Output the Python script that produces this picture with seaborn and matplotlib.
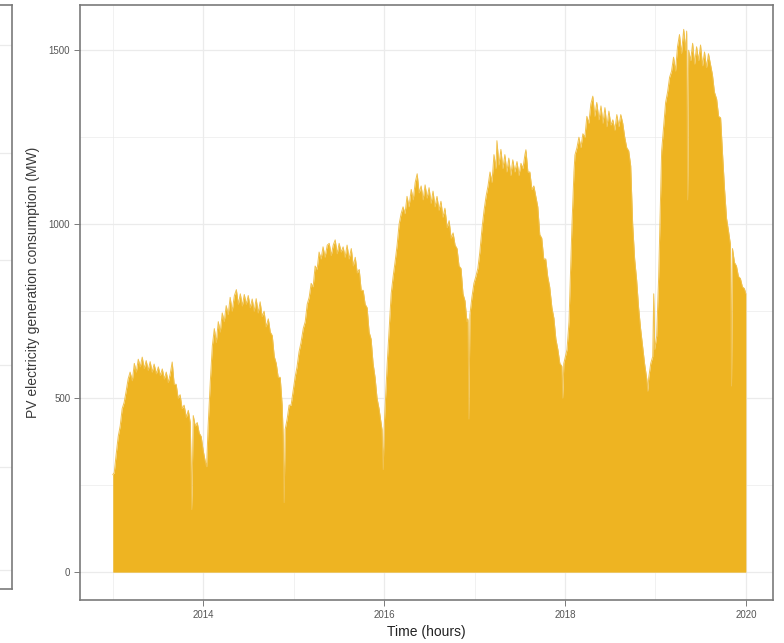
import numpy as np
import pandas as pd
import matplotlib
matplotlib.use("Agg")
import matplotlib.pyplot as plt
import matplotlib.dates as mdates
import seaborn as sns

# Peak hourly PV output (MW), sampled along the series: day offset from 2013-01-01
day_offset = [
    0, 6, 14, 22, 30, 38, 46, 54, 62, 70, 79, 87, 95, 103, 111, 119, 127, 135, 143, 151,
    159, 167, 176, 184, 192, 200, 208, 216, 224, 232, 240, 248, 256, 264, 272, 280, 288,
    297, 305, 313, 319, 325, 333, 341, 349, 357, 365,
    373, 379, 385, 394, 402, 410, 418, 426, 434, 442, 450, 458, 466, 474, 482, 491, 499,
    507, 515, 523, 531, 539, 547, 555, 563, 571, 579, 587, 595, 603, 611, 619, 628, 636,
    644, 652, 660, 668, 676, 684, 688, 692, 696, 704, 712, 720, 728,
    736, 744, 752, 760, 769, 777, 785, 793, 801, 809, 817, 825, 833, 841, 849, 857, 866,
    874, 882, 890, 898, 906, 914, 922, 930, 938, 946, 954, 963, 971, 979, 987, 995, 1003,
    1011, 1019, 1027, 1035, 1043, 1051, 1059, 1067, 1075, 1083, 1087, 1092, 1096,
    1100, 1108, 1116, 1124, 1132, 1140, 1148, 1156, 1164, 1172, 1180, 1188, 1196, 1205,
    1213, 1221, 1229, 1237, 1245, 1253, 1261, 1269, 1277, 1285, 1293, 1301, 1309, 1317,
    1325, 1333, 1341, 1350, 1358, 1366, 1374, 1382, 1390, 1398, 1406, 1414, 1422, 1430,
    1434, 1438, 1442, 1450, 1458,
    1466, 1474, 1482, 1491, 1499, 1507, 1515, 1523, 1531, 1539, 1547, 1551, 1559, 1567,
    1575, 1583, 1591, 1599, 1607, 1615, 1623, 1632, 1640, 1648, 1656, 1664, 1668, 1676,
    1684, 1692, 1700, 1708, 1716, 1724, 1732, 1740, 1748, 1756, 1764, 1773, 1781, 1789,
    1797, 1805, 1813, 1817, 1821,
    1834, 1842, 1846, 1854, 1862, 1866, 1874, 1882, 1890, 1898, 1906, 1914, 1922, 1930,
    1938, 1946, 1954, 1963, 1971, 1979, 1987, 1995, 2003, 2011, 2019, 2027, 2035, 2043,
    2051, 2059, 2067, 2075, 2083, 2091, 2099, 2107, 2115, 2123, 2131, 2139, 2147, 2156,
    2160, 2164, 2172, 2180, 2184, 2188,
    2196, 2204, 2208, 2216, 2224, 2232, 2240, 2248, 2256, 2264, 2272, 2280, 2288, 2296,
    2305, 2313, 2317, 2321, 2325, 2333, 2341, 2349, 2357, 2365, 2373, 2381, 2389, 2397,
    2405, 2413, 2421, 2429, 2438, 2446, 2454, 2462, 2470, 2478, 2486, 2494, 2498, 2502,
    2510, 2518, 2526, 2534, 2542, 2550, 2556,
]
peak_mw = [
    280, 286, 340, 390, 420, 470, 488, 520, 555, 575, 550, 600, 575, 612, 590, 618, 585, 608, 580, 605,
    575, 598, 570, 590, 565, 584, 555, 575, 545, 570, 604, 540, 540, 500, 510, 470, 480,
    445, 465, 430, 180, 450, 420, 430, 400, 390, 350,
    320, 303, 420, 550, 650, 700, 660, 720, 690, 745, 720, 766, 740, 790, 750, 795, 812,
    770, 800, 765, 798, 770, 795, 760, 785, 750, 786, 745, 777, 735, 750, 705, 728, 690,
    680, 620, 600, 560, 560, 480, 390, 200, 410, 440, 480, 480, 520,
    560, 590, 633, 660, 700, 720, 770, 790, 830, 820, 880, 870, 920, 900, 935, 905, 940,
    945, 910, 940, 955, 915, 945, 920, 935, 905, 940, 900, 930, 880, 905, 860, 870, 810,
    810, 770, 760, 690, 670, 600, 560, 500, 470, 430, 410, 295, 420,
    480, 600, 700, 800, 850, 893, 940, 1000, 1030, 1050, 1030, 1080, 1050, 1100,
    1070, 1120, 1145, 1090, 1110, 1070, 1113, 1075, 1105, 1060, 1095, 1050, 1080, 1040,
    1066, 1020, 1046, 990, 1010, 960, 975, 940, 930, 880, 873, 800, 780, 720,
    728, 440, 740, 790, 830,
    850, 873, 920, 990, 1040, 1080, 1110, 1150, 1120, 1200, 1160, 1240, 1170, 1215,
    1160, 1200, 1150, 1190, 1140, 1185, 1150, 1180, 1140, 1175, 1160, 1200, 1214, 1150,
    1150, 1100, 1110, 1080, 1050, 970, 960, 900, 900, 850, 820, 760, 730, 670,
    640, 600, 592, 500, 600,
    640, 720, 815, 1000, 1150, 1199, 1220, 1250, 1220, 1260, 1250, 1310, 1290, 1345,
    1368, 1310, 1350, 1300, 1340, 1290, 1335, 1280, 1325, 1285, 1300, 1270, 1315, 1280,
    1315, 1290, 1250, 1220, 1211, 1168, 1000, 900, 840, 760, 700, 650, 600, 555,
    520, 560, 600, 620, 800, 640,
    679, 850, 968, 1211, 1280, 1350, 1380, 1422, 1440, 1480, 1440, 1510, 1545, 1490,
    1560, 1500, 1555, 1070, 1500, 1470, 1520, 1460, 1510, 1470, 1515, 1455, 1495, 1450,
    1490, 1460, 1430, 1380, 1360, 1310, 1306, 1200, 1100, 1017, 980, 940, 535, 930,
    890, 880, 850, 844, 820, 815, 800,
]

year_ticks = ["2014", "2016", "2018", "2020"]
minor_years = ["2013", "2015", "2017", "2019"]
y_ticks = [0, 500, 1000, 1500]

FILL = "#EEB422"
EDGE = "#F0C14E"
GRID = "#EBEBEB"
FRAME = "#7A7A7A"
TEXT = "#555555"

sns.set_theme(style="white")
plt.rcParams["font.family"] = ["Liberation Sans", "DejaVu Sans"]

start = pd.Timestamp("2013-01-01")
df = pd.DataFrame({
    "time": start + pd.to_timedelta(day_offset, unit="D"),
    "mw": peak_mw,
})

W, H = 784, 643
fig = plt.figure(figsize=(W / 100, H / 100), dpi=100)

# neighbouring panel, only its right edge shows
axl = fig.add_axes([-0.5, 1 - 589 / H, 0.5 + 12 / W, (589 - 5) / H])
axl.set_xlim(0, 1)
axl.set_ylim(0, 584)
for yy in [40, 148, 255, 360, 462, 565]:
    axl.axhline(584 - yy, color=GRID, lw=0.9, zorder=0)
axl.set_xticks([])
axl.set_yticks([])
for s in axl.spines.values():
    s.set_color(FRAME)
    s.set_linewidth(1.2)

# main panel
ax = fig.add_axes([80 / W, 1 - 600 / H, (773 - 80) / W, (600 - 5) / H])
ax.fill_between(df["time"], df["mw"], 0, color=FILL, linewidth=0, zorder=2)
sns.lineplot(data=df, x="time", y="mw", color=EDGE, linewidth=0.7, ax=ax, zorder=3)

x0 = start - pd.Timedelta(days=0.362 * 365.25)
x1 = pd.Timestamp("2020-01-01") + pd.Timedelta(days=0.30 * 365.25)
ax.set_xlim(x0, x1)
ax.set_ylim(-80, 1630)

ax.set_xticks([pd.Timestamp(f"{y}-01-01") for y in year_ticks])
ax.set_xticks([pd.Timestamp(f"{y}-01-01") for y in minor_years], minor=True)
ax.xaxis.set_major_formatter(mdates.DateFormatter("%Y"))
ax.set_yticks(y_ticks)
ax.set_yticks([250, 750, 1250], minor=True)

ax.grid(which="major", color=GRID, lw=0.9, zorder=0)
ax.grid(which="minor", color=GRID, lw=0.5, zorder=0)
ax.set_axisbelow(True)

ax.tick_params(axis="both", which="major", length=4, width=0.7, color=FRAME,
               labelsize=7, labelcolor=TEXT, pad=3, direction="out",
               bottom=True, left=True)
ax.tick_params(axis="both", which="minor", length=0)
for s in ax.spines.values():
    s.set_color(FRAME)
    s.set_linewidth(1.2)

ax.set_xlabel("Time (hours)", fontsize=10, color="#222222", labelpad=4)
ax.set_ylabel("PV electricity generation consumption (MW)", fontsize=10,
              color="#3a3a3a")
ax.yaxis.set_label_coords(-0.058, 0.534)

fig.savefig("out.png", dpi=100)
